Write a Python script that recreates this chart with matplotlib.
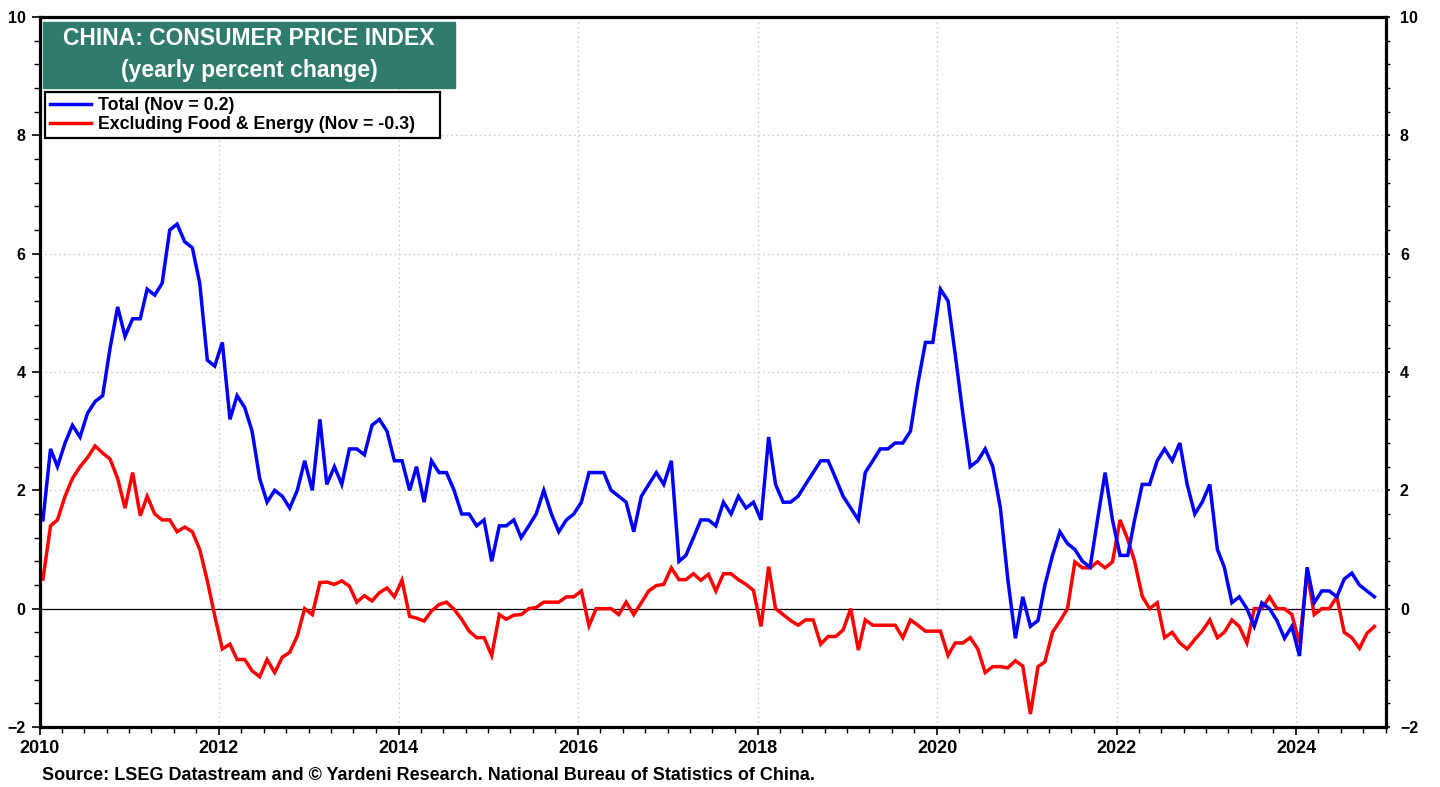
import matplotlib
matplotlib.use("Agg")
import matplotlib.pyplot as plt
import matplotlib.dates as mdates
from matplotlib.ticker import MultipleLocator
from matplotlib.patches import Rectangle
from matplotlib import font_manager
import numpy as np
import pandas as pd

# ---------------- data (yearly % change, monthly Jan 2010 - Nov 2024) ----------------
total_2010 = [1.5, 2.7, 2.4, 2.8, 3.1, 2.9, 3.3, 3.5, 3.6, 4.4, 5.1, 4.6]
total_2011 = [4.9, 4.9, 5.4, 5.3, 5.5, 6.4, 6.5, 6.2, 6.1, 5.5, 4.2, 4.1]
total_2012 = [4.5, 3.2, 3.6, 3.4, 3.0, 2.2, 1.8, 2.0, 1.9, 1.7, 2.0, 2.5]
total_2013 = [2.0, 3.2, 2.1, 2.4, 2.1, 2.7, 2.7, 2.6, 3.1, 3.2, 3.0, 2.5]
total_2014 = [2.5, 2.0, 2.4, 1.8, 2.5, 2.3, 2.3, 2.0, 1.6, 1.6, 1.4, 1.5]
total_2015 = [0.8, 1.4, 1.4, 1.5, 1.2, 1.4, 1.6, 2.0, 1.6, 1.3, 1.5, 1.6]
total_2016 = [1.8, 2.3, 2.3, 2.3, 2.0, 1.9, 1.8, 1.3, 1.9, 2.1, 2.3, 2.1]
total_2017 = [2.5, 0.8, 0.9, 1.2, 1.5, 1.5, 1.4, 1.8, 1.6, 1.9, 1.7, 1.8]
total_2018 = [1.5, 2.9, 2.1, 1.8, 1.8, 1.9, 2.1, 2.3, 2.5, 2.5, 2.2, 1.9]
total_2019 = [1.7, 1.5, 2.3, 2.5, 2.7, 2.7, 2.8, 2.8, 3.0, 3.8, 4.5, 4.5]
total_2020 = [5.4, 5.2, 4.3, 3.3, 2.4, 2.5, 2.7, 2.4, 1.7, 0.5, -0.5, 0.2]
total_2021 = [-0.3, -0.2, 0.4, 0.9, 1.3, 1.1, 1.0, 0.8, 0.7, 1.5, 2.3, 1.5]
total_2022 = [0.9, 0.9, 1.5, 2.1, 2.1, 2.5, 2.7, 2.5, 2.8, 2.1, 1.6, 1.8]
total_2023 = [2.1, 1.0, 0.7, 0.1, 0.2, 0.0, -0.3, 0.1, 0.0, -0.2, -0.5, -0.3]
total_2024 = [-0.8, 0.7, 0.1, 0.3, 0.3, 0.2, 0.5, 0.6, 0.4, 0.3, 0.2]

core_2010 = [0.5, 1.4, 1.5, 1.9, 2.2, 2.4, 2.55, 2.75, 2.63, 2.53, 2.2, 1.7]
core_2011 = [2.3, 1.57, 1.9, 1.6, 1.5, 1.5, 1.3, 1.38, 1.3, 1.0, 0.47, -0.12]
core_2012 = [-0.68, -0.6, -0.86, -0.86, -1.05, -1.15, -0.86, -1.08, -0.82, -0.74, -0.46, 0.0]
core_2013 = [-0.1, 0.44, 0.45, 0.41, 0.47, 0.38, 0.11, 0.22, 0.13, 0.27, 0.35, 0.2]
core_2014 = [0.48, -0.13, -0.16, -0.21, -0.04, 0.07, 0.11, -0.01, -0.18, -0.38, -0.49, -0.49]
core_2015 = [-0.79, -0.1, -0.18, -0.11, -0.1, 0.0, 0.02, 0.11, 0.11, 0.11, 0.2, 0.2]
core_2016 = [0.3, -0.29, 0.0, 0.0, 0.0, -0.1, 0.11, -0.1, 0.1, 0.3, 0.39, 0.41]
core_2017 = [0.69, 0.49, 0.49, 0.59, 0.48, 0.58, 0.3, 0.59, 0.59, 0.49, 0.41, 0.31]
core_2018 = [-0.3, 0.71, 0.0, -0.1, -0.2, -0.28, -0.19, -0.19, -0.6, -0.47, -0.47, -0.36]
core_2019 = [0.0, -0.7, -0.19, -0.28, -0.28, -0.28, -0.28, -0.49, -0.19, -0.28, -0.38, -0.38]
core_2020 = [-0.38, -0.79, -0.58, -0.58, -0.49, -0.68, -1.08, -0.98, -0.98, -1.0, -0.88, -0.97]
core_2021 = [-1.78, -0.98, -0.9, -0.4, -0.21, 0.0, 0.79, 0.69, 0.69, 0.79, 0.69, 0.79]
core_2022 = [1.5, 1.17, 0.8, 0.21, 0.0, 0.1, -0.49, -0.4, -0.58, -0.68, -0.52, -0.38]
core_2023 = [-0.19, -0.49, -0.4, -0.19, -0.3, -0.58, 0.0, 0.0, 0.2, 0.0, 0.0, -0.1]
core_2024 = [-0.58, 0.62, -0.1, 0.0, 0.0, 0.2, -0.4, -0.49, -0.67, -0.42, -0.3]

start_month = "2010-01"
title_line1 = "CHINA: CONSUMER PRICE INDEX"
title_line2 = "(yearly percent change)"
label_total = "Total (Nov = 0.2)"
label_core = "Excluding Food & Energy (Nov = -0.3)"
source_text = "Source: LSEG Datastream and \u00a9 Yardeni Research. National Bureau of Statistics of China."

total = (total_2010 + total_2011 + total_2012 + total_2013 + total_2014 + total_2015 +
         total_2016 + total_2017 + total_2018 + total_2019 + total_2020 + total_2021 +
         total_2022 + total_2023 + total_2024)
core = (core_2010 + core_2011 + core_2012 + core_2013 + core_2014 + core_2015 +
        core_2016 + core_2017 + core_2018 + core_2019 + core_2020 + core_2021 +
        core_2022 + core_2023 + core_2024)

dates = pd.date_range(start_month + "-01", periods=len(total), freq="MS") + pd.Timedelta(days=14)

# ---------------- fonts ----------------
names = {f.name for f in font_manager.fontManager.ttflist}
base_font = "Liberation Sans" if "Liberation Sans" in names else "DejaVu Sans"
narrow_font = "Liberation Sans Narrow" if "Liberation Sans Narrow" in names else base_font
plt.rcParams["font.family"] = [base_font, "DejaVu Sans"]

# ---------------- figure ----------------
W, H = 1440, 787
fig = plt.figure(figsize=(W / 100, H / 100), dpi=100)
ax = fig.add_axes([39.5 / W, 1 - 727 / H, (1386 - 39.5) / W, (727 - 17) / H])

ax.axhline(0, color="black", lw=0.9, zorder=2)
ax.plot(dates, core, color="#FF0000", lw=2.5, zorder=3, label=label_core,
        solid_joinstyle="miter")
ax.plot(dates, total, color="#0000FF", lw=2.5, zorder=4, label=label_total,
        solid_joinstyle="miter")

ax.set_xlim(pd.Timestamp("2010-01-01"), pd.Timestamp("2025-01-01"))
ax.set_ylim(-2, 10)

ax.xaxis.set_major_locator(mdates.YearLocator(2))
ax.xaxis.set_major_formatter(mdates.DateFormatter("%Y"))
ax.xaxis.set_minor_locator(mdates.MonthLocator(bymonth=[1, 4, 7, 10]))
ax.yaxis.set_major_locator(MultipleLocator(2))
ax.yaxis.set_minor_locator(MultipleLocator(0.4))

ax.grid(True, which="major", color="#cfcfcf", lw=1.0, ls=(0, (1.2, 2.2)), zorder=1)
ax.tick_params(axis="both", which="major", direction="out", width=1.2, length=6, colors="black")
ax.tick_params(axis="both", which="minor", direction="out", width=1.0, length=4)
ax.tick_params(axis="y", which="both", right=True, labelright=True)
ax.yaxis.set_tick_params(which="major", pad=4)
for t in ax.yaxis.get_major_ticks():
    t.tick2line.set_markersize(3)
for t in ax.yaxis.get_minor_ticks():
    t.tick2line.set_markersize(3)
for lab in ax.get_yticklabels():
    lab.set_fontweight("bold")
    lab.set_fontsize(11.5)
for lab in ax.get_xticklabels():
    lab.set_fontweight("bold")
    lab.set_fontsize(13)
    lab.set_family(narrow_font)

for sp in ax.spines.values():
    sp.set_linewidth(2.3)
    sp.set_color("black")
    sp.set_zorder(5)

# title box
fig.patches.append(Rectangle((43 / W, 1 - 88 / H), (455 - 43) / W, (88 - 22) / H,
                             transform=fig.transFigure, facecolor="#2F7B6C",
                             edgecolor="#2F7B6C", zorder=6))
fig.text(249 / W, 1 - 38.5 / H, title_line1, color="white", fontsize=16.5,
         fontweight="bold", ha="center", va="center", zorder=7)
fig.text(249 / W, 1 - 70 / H, title_line2, color="white", fontsize=16.5,
         fontweight="bold", ha="center", va="center", zorder=7)

# legend
handles, labels = ax.get_legend_handles_labels()
leg = ax.legend(handles[::-1], labels[::-1], loc="upper left", mode="expand",
                bbox_to_anchor=(45 / W, 1 - 139 / H, (440 - 45) / W, 47 / H),
                bbox_transform=fig.transFigure,
                fancybox=False, framealpha=1, edgecolor="black",
                prop={"weight": "bold", "size": 12.8}, handlelength=2.3,
                handletextpad=0.4, labelspacing=0.1, borderpad=0.3,
                borderaxespad=0)
leg.get_frame().set_linewidth(1.6)
leg.set_zorder(8)

fig.text(42 / W, 1 - 775 / H, source_text, fontsize=13, fontweight="bold",
         family=[narrow_font, "DejaVu Sans"], ha="left", va="center")

fig.savefig("out.png", dpi=100)
